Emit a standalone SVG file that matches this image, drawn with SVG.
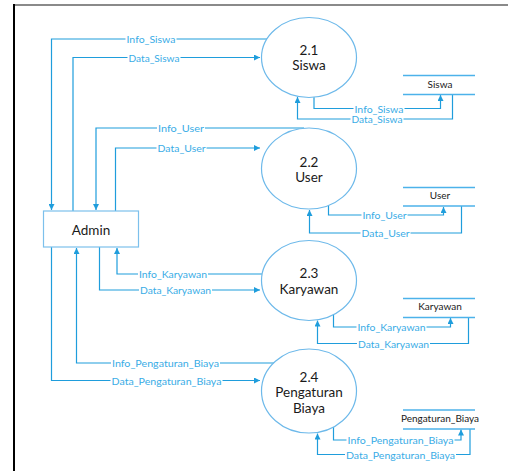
<svg xmlns="http://www.w3.org/2000/svg" width="508" height="471" viewBox="0 0 508 471">
  <style>
    .proc { fill: #ffffff; stroke: #6db9ea; stroke-width: 1.2; }
    .ent { fill: #ffffff; stroke: #7cc0ec; stroke-width: 1.2; }
    .store { stroke: #4cb2ea; stroke-width: 1.3; fill: none; }
    .title { font-family: Lato, "Liberation Sans", sans-serif; font-size: 13.5px; fill: #1a1a1a; text-anchor: middle; }
    .stxt { font-family: Lato, "Liberation Sans", sans-serif; font-size: 10px; fill: #1a1a1a; text-anchor: middle; }
    .flow { fill: none; stroke: #1f9ddc; stroke-width: 1.2; }
    .bg { fill: #ffffff; }
    .lbl { font-family: Lato, "Liberation Sans", sans-serif; font-size: 10px; fill: #39ace6; text-anchor: middle; dominant-baseline: central; }
  </style>
  <defs>
    <marker id="arr" viewBox="0 0 6 6" refX="6" refY="3" markerWidth="6" markerHeight="6" markerUnits="userSpaceOnUse" orient="auto">
      <path d="M0,0 L6,3 L0,6 z" fill="#1f9ddc"/>
    </marker>
  </defs>

  <rect x="0" y="0" width="508" height="471" fill="#ffffff"/>
  <!-- frame -->
  <line x1="14" y1="5" x2="508" y2="5" stroke="#8a8a8a" stroke-width="2"/>
  <line x1="14" y1="4" x2="14" y2="471" stroke="#000000" stroke-width="2"/>

  <!-- connectors -->
  <g id="connectors">
    <!-- Admin <-> 2.1 -->
    <path class="flow" d="M267,39 H51.5 V210" marker-end="url(#arr)"/>
    <path class="flow" d="M73,211 V57.5 H260" marker-end="url(#arr)"/>
    <!-- Admin <-> 2.2 -->
    <path class="flow" d="M304,128 H96 V210" marker-end="url(#arr)"/>
    <path class="flow" d="M115.5,211 V148 H260" marker-end="url(#arr)"/>
    <!-- Admin <-> 2.3 -->
    <path class="flow" d="M262,274 H117 V248" marker-end="url(#arr)"/>
    <path class="flow" d="M99.5,247 V290 H260" marker-end="url(#arr)"/>
    <!-- Admin <-> 2.4 -->
    <path class="flow" d="M274,363 H76.5 V248" marker-end="url(#arr)"/>
    <path class="flow" d="M51.5,247 V380.5 H260" marker-end="url(#arr)"/>

    <!-- 2.1 <-> Siswa store -->
    <path class="flow" d="M314,97 V108.5 H440.5 V95" marker-end="url(#arr)"/>
    <path class="flow" d="M452.5,94.5 V119 H297.5 V97" marker-end="url(#arr)"/>
    <!-- 2.2 <-> User store -->
    <path class="flow" d="M328.5,205 V215 H443.5 V207" marker-end="url(#arr)"/>
    <path class="flow" d="M461.5,206 V233 H309.5 V210" marker-end="url(#arr)"/>
    <!-- 2.3 <-> Karyawan store -->
    <path class="flow" d="M333.5,314 V327 H450.5 V318" marker-end="url(#arr)"/>
    <path class="flow" d="M468.5,317.5 V343.5 H317.5 V320.5" marker-end="url(#arr)"/>
    <!-- 2.4 <-> Pengaturan_Biaya store -->
    <path class="flow" d="M333.5,427 V440 H461 V429.5" marker-end="url(#arr)"/>
    <path class="flow" d="M470,429 V454.5 H317.5 V433.5" marker-end="url(#arr)"/>

    <!-- label backgrounds -->
    <rect class="bg" x="125.5" y="34" width="51" height="10"/>
    <rect class="bg" x="127.5" y="52.5" width="53" height="10"/>
    <rect class="bg" x="157" y="123" width="48" height="10"/>
    <rect class="bg" x="156.5" y="143" width="50" height="10"/>
    <rect class="bg" x="138" y="269" width="70" height="10"/>
    <rect class="bg" x="139" y="285" width="73" height="10"/>
    <rect class="bg" x="111" y="358" width="109" height="10"/>
    <rect class="bg" x="110.5" y="375.5" width="112" height="10"/>

    <rect class="bg" x="353.5" y="103.5" width="51" height="10"/>
    <rect class="bg" x="350.5" y="114" width="53" height="10"/>
    <rect class="bg" x="361.5" y="210" width="46" height="10"/>
    <rect class="bg" x="360.5" y="228" width="50" height="10"/>
    <rect class="bg" x="356.5" y="322" width="70" height="10"/>
    <rect class="bg" x="357" y="338.5" width="73" height="10"/>
    <rect class="bg" x="346.5" y="435" width="108" height="10"/>
    <rect class="bg" x="345" y="449.5" width="111" height="10"/>

    <!-- flow labels -->
    <text class="lbl" x="151" y="39" textLength="49" lengthAdjust="spacingAndGlyphs">Info_Siswa</text>
    <text class="lbl" x="154" y="57.5" textLength="51" lengthAdjust="spacingAndGlyphs">Data_Siswa</text>
    <text class="lbl" x="181" y="128" textLength="46" lengthAdjust="spacingAndGlyphs">Info_User</text>
    <text class="lbl" x="181.5" y="148" textLength="48" lengthAdjust="spacingAndGlyphs">Data_User</text>
    <text class="lbl" x="173" y="274" textLength="68" lengthAdjust="spacingAndGlyphs">Info_Karyawan</text>
    <text class="lbl" x="175.5" y="290" textLength="71" lengthAdjust="spacingAndGlyphs">Data_Karyawan</text>
    <text class="lbl" x="165.5" y="363" textLength="107" lengthAdjust="spacingAndGlyphs">Info_Pengaturan_Biaya</text>
    <text class="lbl" x="166.5" y="380.5" textLength="110" lengthAdjust="spacingAndGlyphs">Data_Pengaturan_Biaya</text>

    <text class="lbl" x="379" y="108.5" textLength="49" lengthAdjust="spacingAndGlyphs">Info_Siswa</text>
    <text class="lbl" x="377" y="119" textLength="51" lengthAdjust="spacingAndGlyphs">Data_Siswa</text>
    <text class="lbl" x="384.5" y="215" textLength="44" lengthAdjust="spacingAndGlyphs">Info_User</text>
    <text class="lbl" x="385.5" y="233" textLength="48" lengthAdjust="spacingAndGlyphs">Data_User</text>
    <text class="lbl" x="391.5" y="327" textLength="68" lengthAdjust="spacingAndGlyphs">Info_Karyawan</text>
    <text class="lbl" x="393.5" y="343.5" textLength="71" lengthAdjust="spacingAndGlyphs">Data_Karyawan</text>
    <text class="lbl" x="400.5" y="440" textLength="106" lengthAdjust="spacingAndGlyphs">Info_Pengaturan_Biaya</text>
    <text class="lbl" x="400.5" y="454.5" textLength="109" lengthAdjust="spacingAndGlyphs">Data_Pengaturan_Biaya</text>
  </g>

  <!-- external entity -->
  <g id="admin">
    <rect class="ent" x="43.5" y="211" width="95" height="36"/>
    <text class="title" x="91" y="234.5">Admin</text>
  </g>

  <!-- processes -->
  <g id="p21">
    <ellipse class="proc" cx="309" cy="57.5" rx="47.5" ry="40"/>
    <text class="title" x="309" y="55">2.1</text>
    <text class="title" x="309" y="70">Siswa</text>
  </g>
  <g id="p22">
    <ellipse class="proc" cx="309" cy="168.5" rx="47.5" ry="40.5"/>
    <text class="title" x="309" y="166.5">2.2</text>
    <text class="title" x="309" y="181.5">User</text>
  </g>
  <g id="p23">
    <ellipse class="proc" cx="309" cy="280.5" rx="47.5" ry="40"/>
    <text class="title" x="309" y="278">2.3</text>
    <text class="title" x="309" y="293.5">Karyawan</text>
  </g>
  <g id="p24">
    <ellipse class="proc" cx="309" cy="391" rx="47.5" ry="42"/>
    <text class="title" x="309" y="381.5">2.4</text>
    <text class="title" x="309" y="397">Pengaturan</text>
    <text class="title" x="309" y="412.5">Biaya</text>
  </g>

  <!-- data stores -->
  <g id="ds-siswa">
    <line class="store" x1="403" y1="75.5" x2="475" y2="75.5"/>
    <line class="store" x1="403" y1="94.5" x2="475" y2="94.5"/>
    <text class="stxt" x="440" y="87.5">Siswa</text>
  </g>
  <g id="ds-user">
    <line class="store" x1="403" y1="187.5" x2="475" y2="187.5"/>
    <line class="store" x1="403" y1="206" x2="475" y2="206"/>
    <text class="stxt" x="440" y="198.5">User</text>
  </g>
  <g id="ds-karyawan">
    <line class="store" x1="403" y1="298.5" x2="475" y2="298.5"/>
    <line class="store" x1="403" y1="317.5" x2="475" y2="317.5"/>
    <text class="stxt" x="440" y="310">Karyawan</text>
  </g>
  <g id="ds-biaya">
    <line class="store" x1="403" y1="410" x2="475" y2="410"/>
    <line class="store" x1="403" y1="429" x2="475" y2="429"/>
    <text class="stxt" x="440" y="421.5">Pengaturan_Biaya</text>
  </g>
</svg>
